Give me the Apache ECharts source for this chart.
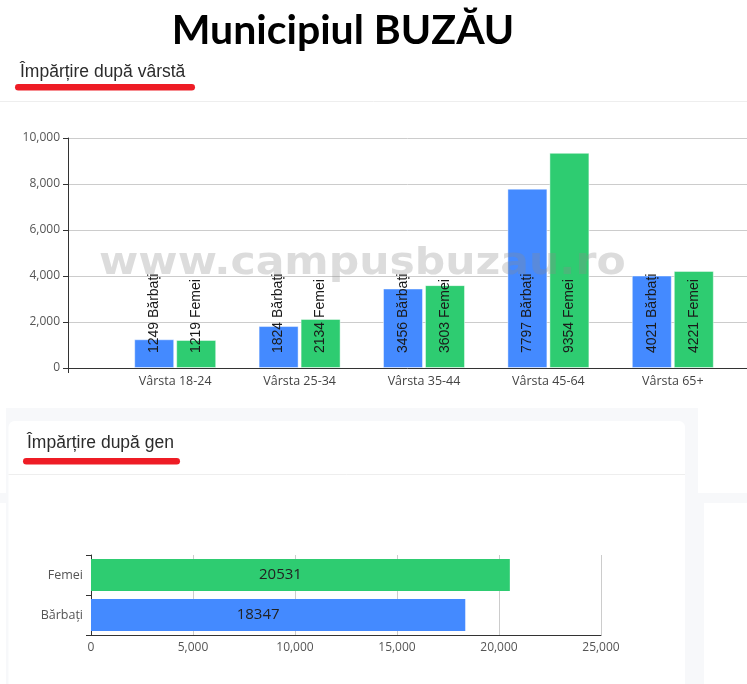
<!DOCTYPE html>
<html>
<head>
<meta charset="utf-8">
<script src="https://cdn.jsdelivr.net/npm/echarts@6/dist/echarts.min.js"></script>
<style>
html,body{margin:0;padding:0;background:#fff;}
#c{width:747px;height:684px;}
</style>
</head>
<body>
<div id="c"></div>
<script>
// ---- data ----
const pageTitle = 'Municipiul BUZĂU';
const ageSectionTitle = 'Împărțire după vârstă';
const genderSectionTitle = 'Împărțire după gen';
const watermarkText = 'www.campusbuzau.ro';

const ageCategories = ['Vârsta 18-24', 'Vârsta 25-34', 'Vârsta 35-44', 'Vârsta 45-64', 'Vârsta 65+'];
const seriesNames = ['Bărbați', 'Femei'];
const menByAge = [1249, 1824, 3456, 7797, 4021];
const womenByAge = [1219, 2134, 3603, 9354, 4221];
const ageAxisTicks = [0, 2000, 4000, 6000, 8000, 10000];

const genderCategories = ['Bărbați', 'Femei'];
const genderTotals = [18347, 20531];
const genderAxisTicks = [0, 5000, 10000, 15000, 20000, 25000];

// ---- styles ----
const BLUE = '#448aff';
const GREEN = '#2ecc71';
const GRAY_BG = '#f7f8fa';
const AXIS_FONT = 'Open Sans, sans-serif';

const chart = echarts.init(document.getElementById('c'), null, {renderer: 'canvas'});

const rotatedLabel = {
  show: true,
  position: 'insideBottom',
  distance: 15,
  rotate: 90,
  align: 'left',
  verticalAlign: 'middle',
  formatter: '{c} {a}',
  fontSize: 14,
  color: '#1a1a1a',
  fontFamily: 'Liberation Sans, Arial, sans-serif'
};

const option = {
  animation: false,
  backgroundColor: '#ffffff',
  graphic: [
    // page background panels
    {type: 'rect', z: -10, shape: {x: 6, y: 408, width: 692, height: 290}, style: {fill: GRAY_BG}},
    {type: 'rect', z: -10, shape: {x: 0, y: 493, width: 747, height: 10}, style: {fill: GRAY_BG}},
    {type: 'rect', z: -10, shape: {x: 698, y: 503, width: 6, height: 190}, style: {fill: GRAY_BG}},
    {type: 'rect', z: -9, shape: {x: 8.5, y: 421, width: 676.5, height: 280, r: [6, 6, 0, 0]}, style: {fill: '#ffffff'}},
    {type: 'line', z: -8, shape: {x1: 0, y1: 101.5, x2: 747, y2: 101.5}, style: {stroke: '#eeeeee', lineWidth: 1}},
    {type: 'line', z: -8, shape: {x1: 8.5, y1: 474.5, x2: 685, y2: 474.5}, style: {stroke: '#eeeeee', lineWidth: 1}},
    // titles
    {type: 'text', z: 10, x: 343, y: 31, style: {text: pageTitle, fontFamily: 'Lato, sans-serif', fontWeight: 'bold', fontSize: 41, fill: '#000', align: 'center', verticalAlign: 'middle'}},
    {type: 'text', z: 10, x: 20, y: 72, style: {text: ageSectionTitle, fontFamily: 'Liberation Sans, Arial, sans-serif', fontSize: 17.5, fill: '#2b2b2b', align: 'left', verticalAlign: 'middle'}},
    {type: 'rect', z: 10, shape: {x: 15, y: 84, width: 180, height: 6.5, r: 3.25}, style: {fill: '#ee1c25'}},
    {type: 'text', z: 10, x: 27, y: 443, style: {text: genderSectionTitle, fontFamily: 'Liberation Sans, Arial, sans-serif', fontSize: 17.5, fill: '#2b2b2b', align: 'left', verticalAlign: 'middle'}},
    {type: 'rect', z: 10, shape: {x: 23, y: 458, width: 157, height: 6.5, r: 3.25}, style: {fill: '#ee1c25'}},
    // watermark
    {type: 'text', z: 100, x: 99, y: 264, scaleX: 1.12, style: {text: watermarkText, fontFamily: 'DejaVu Sans, sans-serif', fontWeight: 'bold', fontSize: 38, fill: 'rgba(140,140,140,0.3)', align: 'left', verticalAlign: 'middle'}}
  ],
  grid: [
    {left: 68, width: 682, top: 138, height: 230},
    {left: 113, right: 12, top: 138, height: 230},
    {left: 91, right: 146, top: 555, height: 80}
  ],
  xAxis: [
    {gridIndex: 0, type: 'category', data: [''],
      axisLine: {lineStyle: {color: '#333'}}, axisTick: {show: true, length: 5, lineStyle: {color: '#333'}},
      axisLabel: {show: false}, splitLine: {show: false}},
    {gridIndex: 1, type: 'category', data: ageCategories,
      axisLine: {show: false}, axisTick: {show: false},
      axisLabel: {color: '#444', fontSize: 12.5, margin: 7, fontFamily: AXIS_FONT}},
    {gridIndex: 2, type: 'value', min: genderAxisTicks[0], max: genderAxisTicks[genderAxisTicks.length - 1],
      interval: genderAxisTicks[1] - genderAxisTicks[0],
      axisLine: {show: true, lineStyle: {color: '#333'}}, axisTick: {show: false},
      splitLine: {show: true, lineStyle: {color: '#cccccc'}},
      axisLabel: {color: '#555', fontSize: 12, margin: 7, fontFamily: AXIS_FONT}}
  ],
  yAxis: [
    {gridIndex: 0, type: 'value', min: ageAxisTicks[0], max: ageAxisTicks[ageAxisTicks.length - 1],
      interval: ageAxisTicks[1] - ageAxisTicks[0],
      axisLine: {show: true, lineStyle: {color: '#333'}}, axisTick: {show: true, length: 5, lineStyle: {color: '#333'}},
      splitLine: {show: true, lineStyle: {color: '#cccccc'}},
      axisLabel: {color: '#555', fontSize: 12, margin: 8, fontFamily: AXIS_FONT}},
    {gridIndex: 1, type: 'value', min: ageAxisTicks[0], max: ageAxisTicks[ageAxisTicks.length - 1], show: false,
      splitLine: {show: false}},
    {gridIndex: 2, type: 'category', data: genderCategories,
      axisLine: {show: true, lineStyle: {color: '#333'}}, axisTick: {show: true, length: 5, lineStyle: {color: '#333'}},
      axisLabel: {color: '#555', fontSize: 12.5, margin: 8, fontFamily: AXIS_FONT}}
  ],
  series: [
    {type: 'bar', name: seriesNames[0], xAxisIndex: 1, yAxisIndex: 1, data: menByAge,
      barWidth: 40, barGap: '5%',
      itemStyle: {color: BLUE, borderColor: 'rgba(255,255,255,0.45)', borderWidth: 1},
      label: rotatedLabel},
    {type: 'bar', name: seriesNames[1], xAxisIndex: 1, yAxisIndex: 1, data: womenByAge,
      barWidth: 40, barGap: '5%',
      itemStyle: {color: GREEN, borderColor: 'rgba(255,255,255,0.45)', borderWidth: 1},
      label: rotatedLabel},
    {type: 'bar', name: 'Total', xAxisIndex: 2, yAxisIndex: 2,
      data: genderTotals.map((v, i) => ({value: v, itemStyle: {color: i === 0 ? BLUE : GREEN}})),
      barWidth: 32,
      label: {show: true, position: 'inside', offset: [-20, 0], color: '#222', fontSize: 15, fontFamily: AXIS_FONT}}
  ]
};

chart.setOption(option);
</script>
</body>
</html>
